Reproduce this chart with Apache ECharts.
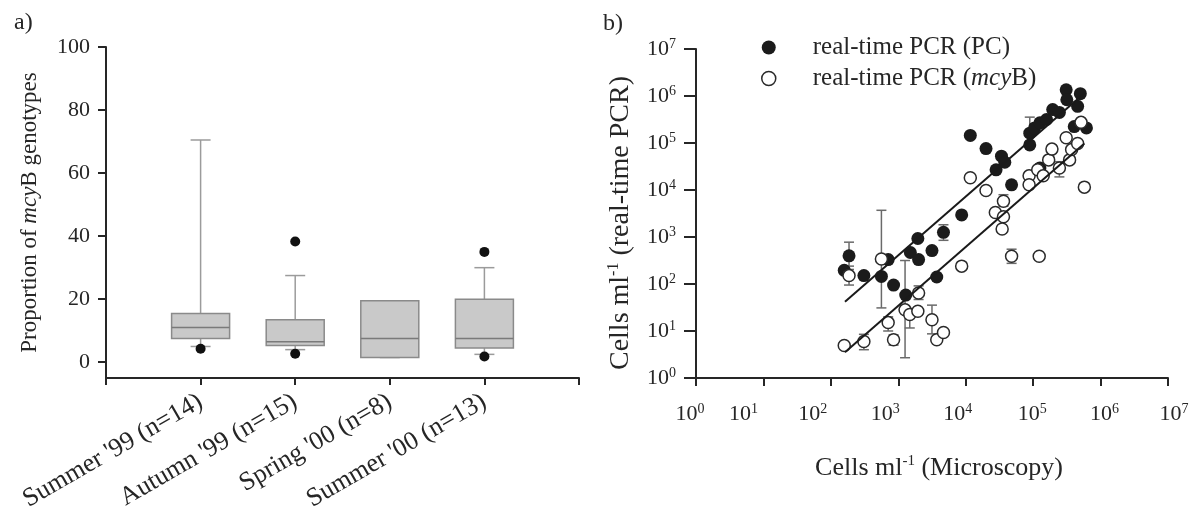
<!DOCTYPE html>
<html>
<head>
<meta charset="utf-8">
<script src="https://cdn.jsdelivr.net/npm/echarts@6.0.0/dist/echarts.min.js"></script>
<style>
  html, body { margin: 0; padding: 0; background: #fff; }
  #main { width: 1192px; height: 515px; }
</style>
</head>
<body>
<div id="main"></div>
<script>
var FONT = 'Liberation Serif';
var INK = '#262626';

// a) proportion of mcyB genotypes per sampling period
var groups = ["Summer '99 (n=14)", "Autumn '99 (n=15)", "Spring '00 (n=8)", "Summer '00 (n=13)"];
var boxLow = [5, 4, 1.5, 2.5];
var boxQ1 = [7.5, 5.3, 1.5, 4.5];
var boxMedian = [11, 6.5, 7.5, 7.5];
var boxQ3 = [15.5, 13.5, 19.5, 20];
var boxHigh = [70.5, 27.5, 19.5, 30];
var outlierGroup = [0, 1, 1, 3, 3];
var outlierValue = [4.3, 38.3, 2.7, 35, 1.8];
var propTicks = [0, 20, 40, 60, 80, 100];

// b) cells ml-1: [microscopy, real-time PCR]
var pcPoints = [
  [158, 195], [186, 398], [309, 151], [562, 145], [708, 331], [851, 95],
  [1290, 58], [1510, 468], [1950, 930], [2000, 331], [3160, 513], [3720, 141],
  [4680, 1260], [8710, 2950], [11700, 145000], [20000, 76000], [28200, 26900],
  [33900, 52500], [38000, 38900], [47900, 12900], [89100, 91200], [89100, 162000],
  [105000, 209000], [126000, 269000], [158000, 316000], [195000, 513000],
  [245000, 447000], [309000, 1350000], [316000, 832000], [501000, 1120000],
  [457000, 603000], [407000, 224000], [617000, 209000], [126000, 29500]
];
// [microscopy, low, high]
var pcErrors = [[186, 204, 776], [4680, 850, 1820], [89100, 100000, 355000]];
var mcyPoints = [
  [158, 4.9], [186, 151], [309, 6.0], [562, 339], [708, 15.1], [851, 6.5],
  [1260, 28.2], [1480, 22.4], [1950, 26.3], [2000, 64.6], [3160, 17.4], [3720, 6.5],
  [4680, 9.3], [8710, 240], [11700, 18200], [20000, 9770], [27500, 3310],
  [36300, 2690], [36300, 5750], [34700, 1480], [47900, 389], [123000, 389],
  [87100, 20000], [87100, 12900], [117000, 26900], [141000, 20000], [170000, 43700],
  [190000, 74100], [245000, 29500], [347000, 43700], [372000, 72400], [309000, 129000],
  [457000, 97700], [513000, 275000], [575000, 11500]
];
var mcyErrors = [
  [186, 95, 240], [309, 4.0, 8.5], [562, 31, 3700], [708, 10, 20], [851, 5, 8.3],
  [1260, 2.7, 316], [1480, 11.6, 30], [2000, 46.8, 91.2], [3160, 8.7, 35.5],
  [36300, 4500, 7940], [47900, 275, 550], [245000, 19000, 40000]
];
var pcFit = [[162, 41.7], [575000, 1150000]];
var mcyFit = [[162, 3.55], [575000, 97700]];

var cats = [''].concat(groups, ['']);
var boxData = groups.map(function (g, i) {
  return [i + 1, boxLow[i], boxQ1[i], boxMedian[i], boxQ3[i], boxHigh[i]];
});
var outlierData = outlierGroup.map(function (g, i) { return [g + 1, outlierValue[i]]; });

function renderBox(params, api) {
  var x = api.value(0);
  var lo = api.coord([x, api.value(1)]);
  var q1 = api.coord([x, api.value(2)]);
  var md = api.coord([x, api.value(3)]);
  var q3 = api.coord([x, api.value(4)]);
  var hi = api.coord([x, api.value(5)]);
  var cx = lo[0], w = 58, cap = 10;
  var wStyle = { stroke: '#9b9b9b', lineWidth: 1.5, fill: null };
  return {
    type: 'group',
    children: [
      { type: 'line', shape: { x1: cx, y1: q3[1], x2: cx, y2: hi[1] }, style: wStyle },
      { type: 'line', shape: { x1: cx - cap, y1: hi[1], x2: cx + cap, y2: hi[1] }, style: wStyle },
      { type: 'line', shape: { x1: cx, y1: q1[1], x2: cx, y2: lo[1] }, style: wStyle },
      { type: 'line', shape: { x1: cx - cap, y1: lo[1], x2: cx + cap, y2: lo[1] }, style: wStyle },
      { type: 'rect', shape: { x: cx - w / 2, y: q3[1], width: w, height: q1[1] - q3[1] },
        style: { fill: '#c9c9c9', stroke: '#8a8a8a', lineWidth: 1.5 } },
      { type: 'line', shape: { x1: cx - w / 2, y1: md[1], x2: cx + w / 2, y2: md[1] },
        style: { stroke: '#7a7a7a', lineWidth: 1.5 } }
    ]
  };
}

function renderErr(params, api) {
  var x = api.value(0);
  var bot = api.coord([x, api.value(1)]);
  var top = api.coord([x, api.value(2)]);
  var cap = 5;
  var st = { stroke: '#6a6a6a', lineWidth: 1.5 };
  return {
    type: 'group',
    children: [
      { type: 'line', shape: { x1: top[0], y1: top[1], x2: bot[0], y2: bot[1] }, style: st },
      { type: 'line', shape: { x1: top[0] - cap, y1: top[1], x2: top[0] + cap, y2: top[1] }, style: st },
      { type: 'line', shape: { x1: bot[0] - cap, y1: bot[1], x2: bot[0] + cap, y2: bot[1] }, style: st }
    ]
  };
}

var supRich = {
  b: { fontFamily: FONT, color: INK, fontSize: 22, lineHeight: 24 },
  s: { fontFamily: FONT, color: INK, fontSize: 14, verticalAlign: 'top' }
};
// the printed x labels drift a little from their ticks
var xLabelShift = [-6, -20, -18, -13, -8, -1, 4, 6];
var xRich = Object.assign({}, supRich);
for (var k = 1; k <= 40; k++) xRich['w' + k] = { width: k };

function powLabel(v) {
  var e = Math.round(Math.log(v) / Math.LN10);
  return '{b|10}{s|' + e + '}';
}

var chart = echarts.init(document.getElementById('main'), null, { renderer: 'canvas' });
chart.setOption({
  animation: false,
  backgroundColor: '#fff',
  title: [
    { text: 'a)', left: 9, top: 6, textStyle: { fontFamily: FONT, fontSize: 24, fontWeight: 'normal', color: INK } },
    { text: 'b)', left: 598, top: 7, textStyle: { fontFamily: FONT, fontSize: 24, fontWeight: 'normal', color: INK } }
  ],
  legend: {
    orient: 'vertical',
    left: 756,
    top: 30,
    itemWidth: 78,
    itemHeight: 14,
    itemGap: 6,
    selectedMode: false,
    data: [
      { name: 'real-time PCR (PC)', icon: 'circle', itemStyle: { color: '#1b1b1b', borderWidth: 0 } },
      { name: 'real-time PCR (mcyB)', icon: 'circle', itemStyle: { color: '#fff', borderColor: '#2a2a2a', borderWidth: 1.5 } }
    ],
    formatter: function (name) {
      if (name.indexOf('mcyB') >= 0) return '{n|real-time PCR (}{i|mcy}{n|B)}';
      return '{n|' + name + '}';
    },
    textStyle: {
      fontFamily: FONT, fontSize: 25, color: INK, lineHeight: 25,
      rich: {
        n: { fontFamily: FONT, fontSize: 25, color: INK, lineHeight: 25 },
        i: { fontFamily: FONT, fontSize: 25, color: INK, lineHeight: 25, fontStyle: 'italic' }
      }
    }
  },
  grid: [
    { left: 106, top: 47, width: 473, height: 331, containLabel: false, outerBoundsMode: 'none' },
    { left: 696, top: 49, width: 472, height: 329, containLabel: false, outerBoundsMode: 'none' }
  ],
  xAxis: [
    {
      gridIndex: 0, type: 'category', data: cats, boundaryGap: false,
      axisLine: { onZero: false, lineStyle: { color: INK, width: 2 } },
      axisTick: { show: true, interval: 0, length: 7, lineStyle: { color: INK, width: 2 } },
      axisLabel: { interval: 0, rotate: 30, margin: 22, fontFamily: FONT, fontSize: 26, color: INK },
      splitLine: { show: false }
    },
    {
      gridIndex: 1, type: 'log', logBase: 10, min: 1, max: 1e7, splitNumber: 7,
      name: '{n|Cells ml}{s|-1}{n| (Microscopy)}',
      nameLocation: 'middle', nameGap: 76, nameMoveOverlap: false,
      nameTextStyle: {
        padding: [0, 0, 0, 14],
        rich: {
          n: { fontFamily: FONT, fontSize: 26, color: INK, lineHeight: 28 },
          s: { fontFamily: FONT, fontSize: 15, color: INK, verticalAlign: 'top' }
        }
      },
      axisLine: { onZero: false, lineStyle: { color: INK, width: 2 } },
      axisTick: { show: true, length: 8, lineStyle: { color: INK, width: 2 } },
      minorTick: { show: false },
      axisLabel: {
        margin: 24, rich: xRich,
        formatter: function (v) {
          var e = Math.round(Math.log(v) / Math.LN10);
          var d = xLabelShift[e] || 0;
          var t = powLabel(v);
          if (d > 0) t = '{w' + (2 * d) + '| }' + t;
          if (d < 0) t = t + '{w' + (-2 * d) + '| }';
          return t;
        }
      },
      splitLine: { show: false }
    }
  ],
  yAxis: [
    {
      gridIndex: 0, type: 'value', min: -5, max: 100,
      name: '{n|Proportion of }{i|mcy}{n|B genotypes}',
      nameLocation: 'middle', nameGap: 65, nameMoveOverlap: false,
      nameTextStyle: {
        rich: {
          n: { fontFamily: FONT, fontSize: 23, color: INK },
          i: { fontFamily: FONT, fontSize: 23, color: INK, fontStyle: 'italic' }
        }
      },
      axisLine: { show: true, onZero: false, lineStyle: { color: INK, width: 2 } },
      axisTick: { show: true, length: 8, customValues: propTicks, lineStyle: { color: INK, width: 2 } },
      axisLabel: { customValues: propTicks, margin: 16, fontFamily: FONT, fontSize: 22, color: INK },
      splitLine: { show: false }
    },
    {
      gridIndex: 1, type: 'log', logBase: 10, min: 1, max: 1e7, splitNumber: 7,
      name: '{n|Cells ml}{s|-1}{n| (real-time PCR)}',
      nameLocation: 'middle', nameGap: 60, nameMoveOverlap: false,
      nameTextStyle: {
        padding: [0, 19, 0, 0],
        rich: {
          n: { fontFamily: FONT, fontSize: 28, color: INK, lineHeight: 30 },
          s: { fontFamily: FONT, fontSize: 16, color: INK, verticalAlign: 'top' }
        }
      },
      axisLine: { show: true, onZero: false, lineStyle: { color: INK, width: 2 } },
      axisTick: { show: true, length: 12, lineStyle: { color: INK, width: 2 } },
      minorTick: { show: false },
      axisLabel: { margin: 20, rich: supRich, formatter: powLabel },
      splitLine: { show: false }
    }
  ],
  series: [
    {
      type: 'custom', name: 'box', xAxisIndex: 0, yAxisIndex: 0,
      renderItem: renderBox, data: boxData,
      encode: { x: 0, y: [1, 2, 3, 4, 5] }, z: 2
    },
    {
      type: 'scatter', name: 'outliers', xAxisIndex: 0, yAxisIndex: 0,
      data: outlierData, symbolSize: 10, itemStyle: { color: '#111', opacity: 1 }, z: 3
    },
    {
      type: 'custom', name: 'pc error', xAxisIndex: 1, yAxisIndex: 1,
      renderItem: renderErr, data: pcErrors, encode: { x: 0, y: [1, 2] }, z: 2
    },
    {
      type: 'custom', name: 'mcyB error', xAxisIndex: 1, yAxisIndex: 1,
      renderItem: renderErr, data: mcyErrors, encode: { x: 0, y: [1, 2] }, z: 2
    },
    {
      type: 'scatter', name: 'real-time PCR (PC)', xAxisIndex: 1, yAxisIndex: 1,
      data: pcPoints, symbolSize: 13, itemStyle: { color: '#1b1b1b', opacity: 1 }, z: 3
    },
    {
      type: 'scatter', name: 'real-time PCR (mcyB)', xAxisIndex: 1, yAxisIndex: 1,
      data: mcyPoints, symbolSize: 12,
      itemStyle: { color: '#fff', borderColor: '#2a2a2a', borderWidth: 1.5, opacity: 1 }, z: 4
    },
    {
      type: 'line', name: 'PC fit', xAxisIndex: 1, yAxisIndex: 1, data: pcFit,
      symbol: 'none', lineStyle: { color: '#1a1a1a', width: 2 }, z: 5
    },
    {
      type: 'line', name: 'mcyB fit', xAxisIndex: 1, yAxisIndex: 1, data: mcyFit,
      symbol: 'none', lineStyle: { color: '#1a1a1a', width: 2 }, z: 5
    }
  ]
});
</script>
</body>
</html>
